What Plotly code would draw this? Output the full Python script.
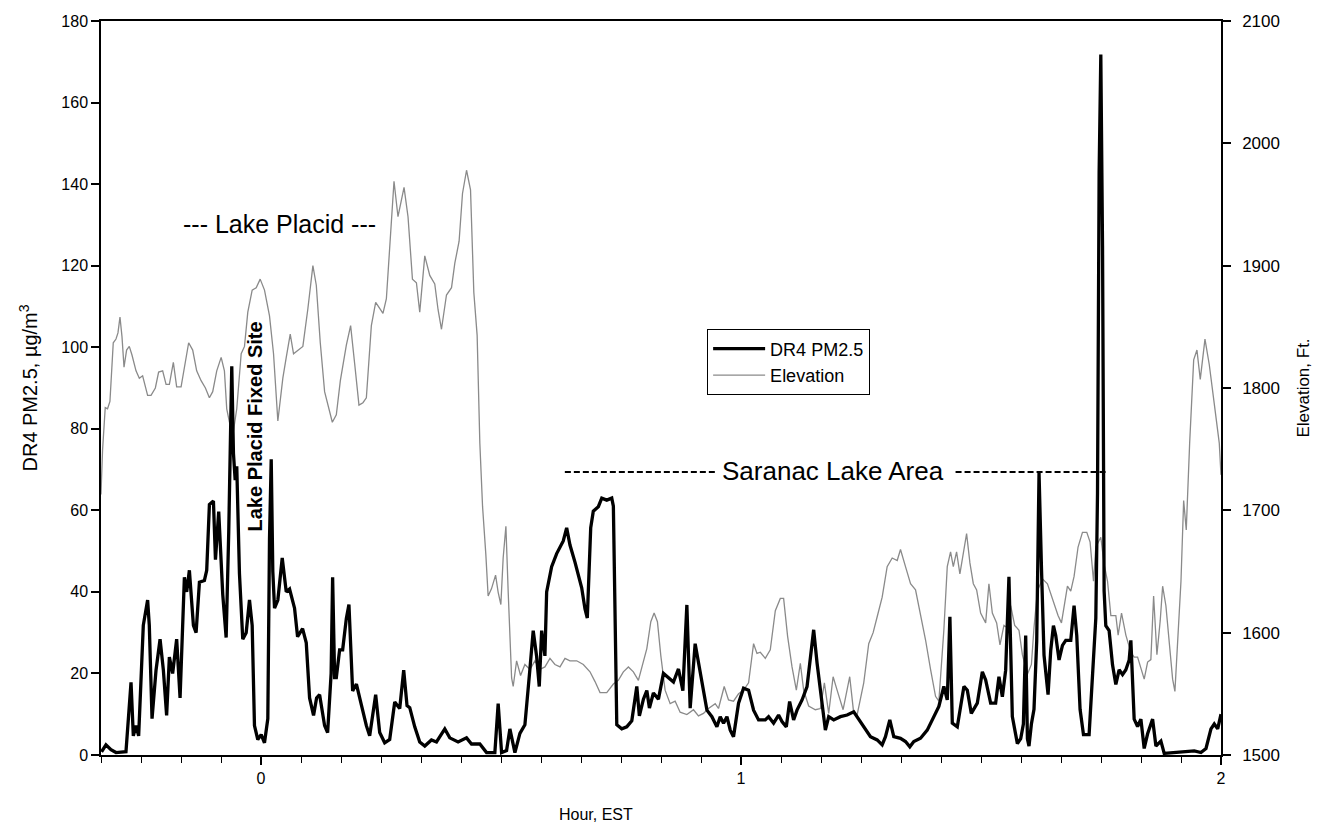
import plotly.graph_objects as go

# Time axis (hours, EST) and DR4 PM2.5 readings (ug/m3)
pm_hours = [
    -0.3322, -0.3230, -0.3126, -0.3021, -0.2813, -0.2708, -0.2660, -0.2604, -0.2549, -0.2452,
    -0.2362, -0.2327, -0.2270, -0.2187, -0.2103, -0.2034, -0.1966, -0.1909, -0.1841, -0.1757,
    -0.1686, -0.1596, -0.1548, -0.1492, -0.1408, -0.1352, -0.1283, -0.1179, -0.1131, -0.1075,
    -0.0991, -0.0949, -0.0881, -0.0797, -0.0726, -0.0672, -0.0609, -0.0574, -0.0538, -0.0505,
    -0.0449, -0.0380, -0.0309, -0.0240, -0.0184, -0.0136, -0.0067, 0.0004, 0.0073, 0.0142,
    0.0177, 0.0213, 0.0246, 0.0282, 0.0351, 0.0442, 0.0526, 0.0595, 0.0699, 0.0762,
    0.0866, 0.0943, 0.1012, 0.1095, 0.1158, 0.1221, 0.1325, 0.1388, 0.1461, 0.1492,
    0.1534, 0.1569, 0.1638, 0.1701, 0.1778, 0.1832, 0.1909, 0.1988, 0.2091, 0.2195,
    0.2264, 0.2389, 0.2473, 0.2577, 0.2681, 0.2786, 0.2890, 0.2973, 0.3042, 0.3099,
    0.3203, 0.3307, 0.3412, 0.3551, 0.3656, 0.3829, 0.3933, 0.4106, 0.4282, 0.4386,
    0.4559, 0.4699, 0.4872, 0.4941, 0.5012, 0.5116, 0.5185, 0.5290, 0.5394, 0.5498,
    0.5603, 0.5671, 0.5742, 0.5797, 0.5847, 0.5915, 0.5951, 0.6055, 0.6160, 0.6297,
    0.6368, 0.6437, 0.6541, 0.6681, 0.6750, 0.6798, 0.6869, 0.6923, 0.7028, 0.7099,
    0.7203, 0.7307, 0.7341, 0.7412, 0.7516, 0.7620, 0.7725, 0.7829, 0.7883, 0.7967,
    0.8038, 0.8092, 0.8175, 0.8280, 0.8384, 0.8488, 0.8593, 0.8697, 0.8789, 0.8872,
    0.8941, 0.9045, 0.9150, 0.9290, 0.9394, 0.9498, 0.9567, 0.9636, 0.9707, 0.9776,
    0.9844, 0.9949, 1.0053, 1.0158, 1.0262, 1.0366, 1.0506, 1.0575, 1.0679, 1.0783,
    1.0854, 1.0944, 1.1013, 1.1096, 1.1167, 1.1272, 1.1376, 1.1460, 1.1514, 1.1585,
    1.1689, 1.1758, 1.1827, 1.1931, 1.2071, 1.2211, 1.2349, 1.2420, 1.2557, 1.2697,
    1.2837, 1.2941, 1.3010, 1.3100, 1.3183, 1.3323, 1.3427, 1.3517, 1.3600, 1.3740,
    1.3880, 1.4018, 1.4122, 1.4226, 1.4297, 1.4352, 1.4402, 1.4506, 1.4644, 1.4715,
    1.4798, 1.4923, 1.5028, 1.5097, 1.5201, 1.5305, 1.5374, 1.5445, 1.5514, 1.5582,
    1.5653, 1.5758, 1.5827, 1.5883, 1.5931, 1.5967, 1.6000, 1.6050, 1.6104, 1.6161,
    1.6209, 1.6259, 1.6313, 1.6397, 1.6453, 1.6509, 1.6557, 1.6626, 1.6697, 1.6766,
    1.6870, 1.6939, 1.6995, 1.7064, 1.7135, 1.7252, 1.7323, 1.7392, 1.7427, 1.7461,
    1.7496, 1.7532, 1.7565, 1.7600, 1.7669, 1.7740, 1.7809, 1.7878, 1.7949, 1.8018,
    1.8087, 1.8122, 1.8191, 1.8262, 1.8331, 1.8400, 1.8471, 1.8575, 1.8644, 1.8748,
    1.8817, 1.9025, 1.9234, 1.9443, 1.9582, 1.9687, 1.9791, 1.9860, 1.9931, 2.0000,
]
pm25 = [
    0.8, 2.5, 1.3, 0.6, 0.8, 17.8, 4.7, 7.2, 4.7, 31.8,
    38.0, 31.8, 8.9, 20.8, 28.4, 20.8, 9.7, 24.0, 20.0, 28.4,
    14.0, 43.6, 40.0, 45.3, 31.8, 30.0, 42.4, 42.8, 45.3, 61.4,
    62.3, 47.9, 59.7, 39.4, 28.8, 54.7, 95.3, 74.0, 67.4, 70.8,
    44.5, 28.4, 30.0, 38.0, 31.8, 7.2, 3.8, 5.0, 3.0, 8.9,
    53.0, 72.5, 45.0, 36.0, 38.0, 48.3, 40.0, 40.7, 36.0, 29.0,
    31.0, 27.5, 14.0, 9.7, 14.0, 14.8, 7.2, 5.5, 20.0, 43.6,
    19.0, 19.0, 25.8, 25.8, 33.5, 36.9, 15.7, 17.4, 12.3, 7.2,
    4.7, 14.8, 5.5, 3.0, 3.8, 13.0, 11.4, 20.8, 12.1, 11.6,
    6.9, 3.2, 2.2, 3.7, 3.2, 6.4, 4.2, 3.2, 4.2, 2.7,
    2.7, 0.6, 0.6, 12.6, 0.6, 1.1, 6.4, 0.6, 5.3, 7.4,
    21.1, 30.5, 24.2, 16.8, 30.5, 24.3, 40.0, 46.2, 49.4, 52.5,
    55.7, 51.5, 47.3, 41.0, 35.8, 33.6, 55.7, 59.8, 60.9, 63.0,
    62.5, 63.0, 61.0, 7.4, 6.4, 6.9, 8.4, 16.8, 9.6, 13.7,
    15.8, 11.5, 15.2, 13.7, 20.0, 18.9, 17.9, 21.1, 15.8, 36.8,
    11.5, 27.3, 20.0, 11.0, 9.4, 6.9, 9.4, 7.8, 9.4, 6.1,
    4.5, 12.7, 16.4, 15.9, 11.0, 8.6, 8.6, 9.4, 7.8, 9.8,
    8.2, 6.9, 13.1, 8.6, 11.0, 13.5, 16.8, 25.7, 30.7, 22.5,
    13.5, 6.1, 9.4, 8.6, 9.4, 9.8, 10.6, 9.4, 6.9, 4.5,
    3.7, 2.5, 4.5, 8.6, 4.5, 4.1, 3.3, 2.0, 3.3, 4.1,
    6.1, 9.4, 11.9, 16.8, 13.5, 33.9, 7.8, 6.9, 16.8, 15.9,
    10.2, 12.7, 20.4, 18.4, 12.7, 12.7, 19.2, 14.3, 20.8, 43.7,
    9.4, 2.8, 4.0, 7.6, 29.3, 4.0, 2.2, 7.6, 11.2, 28.0,
    69.2, 46.2, 24.5, 14.8, 25.7, 31.7, 29.3, 23.3, 26.9, 28.1,
    28.1, 36.6, 29.3, 11.2, 5.0, 5.0, 20.9, 33.6, 64.0, 142.8,
    171.8, 124.7, 40.2, 31.7, 30.5, 22.1, 17.3, 20.9, 19.7, 20.9,
    23.3, 28.1, 8.8, 7.0, 8.8, 1.6, 5.2, 8.8, 2.2, 3.4,
    0.4, 0.6, 0.6, 1.0, 0.6, 1.6, 6.4, 7.6, 6.4, 10.0,
]

# GPS elevation along the route (ft)
elev_hours = [
    -0.3334, -0.3301, -0.3245, -0.3197, -0.3147, -0.3078, -0.3021, -0.2980, -0.2938, -0.2896,
    -0.2854, -0.2800, -0.2744, -0.2688, -0.2604, -0.2535, -0.2466, -0.2431, -0.2362, -0.2291,
    -0.2201, -0.2133, -0.2049, -0.1978, -0.1909, -0.1826, -0.1757, -0.1665, -0.1596, -0.1507,
    -0.1423, -0.1340, -0.1248, -0.1158, -0.1075, -0.1006, -0.0922, -0.0830, -0.0762, -0.0714,
    -0.0657, -0.0574, -0.0505, -0.0413, -0.0344, -0.0275, -0.0184, -0.0100, -0.0017, 0.0073,
    0.0177, 0.0261, 0.0351, 0.0455, 0.0526, 0.0609, 0.0678, 0.0768, 0.0872, 0.0977,
    0.1081, 0.1152, 0.1235, 0.1325, 0.1415, 0.1486, 0.1569, 0.1653, 0.1778, 0.1867,
    0.1951, 0.2041, 0.2124, 0.2195, 0.2299, 0.2389, 0.2473, 0.2541, 0.2612, 0.2702,
    0.2771, 0.2854, 0.2980, 0.3063, 0.3155, 0.3238, 0.3307, 0.3412, 0.3516, 0.3620,
    0.3689, 0.3760, 0.3864, 0.3969, 0.4038, 0.4127, 0.4198, 0.4282, 0.4365, 0.4434,
    0.4503, 0.4559, 0.4616, 0.4684, 0.4732, 0.4803, 0.4887, 0.4941, 0.4997, 0.5045,
    0.5102, 0.5150, 0.5221, 0.5254, 0.5325, 0.5408, 0.5498, 0.5603, 0.5707, 0.5811,
    0.5915, 0.6020, 0.6124, 0.6229, 0.6333, 0.6437, 0.6577, 0.6715, 0.6854, 0.6959,
    0.7063, 0.7203, 0.7341, 0.7445, 0.7549, 0.7654, 0.7758, 0.7862, 0.7954, 0.8038,
    0.8121, 0.8190, 0.8259, 0.8330, 0.8419, 0.8524, 0.8628, 0.8732, 0.8872, 0.9010,
    0.9114, 0.9218, 0.9323, 0.9463, 0.9531, 0.9650, 0.9740, 0.9844, 0.9949, 1.0053,
    1.0158, 1.0262, 1.0333, 1.0402, 1.0506, 1.0610, 1.0715, 1.0819, 1.0888, 1.0971,
    1.1063, 1.1153, 1.1236, 1.1305, 1.1410, 1.1549, 1.1654, 1.1737, 1.1827, 1.1919,
    1.2002, 1.2127, 1.2265, 1.2349, 1.2420, 1.2557, 1.2661, 1.2753, 1.2837, 1.2941,
    1.3045, 1.3150, 1.3254, 1.3323, 1.3427, 1.3532, 1.3636, 1.3740, 1.3845, 1.3949,
    1.4053, 1.4122, 1.4226, 1.4297, 1.4366, 1.4423, 1.4491, 1.4560, 1.4644, 1.4700,
    1.4769, 1.4840, 1.4909, 1.4992, 1.5097, 1.5165, 1.5236, 1.5326, 1.5395, 1.5478,
    1.5549, 1.5618, 1.5702, 1.5791, 1.5862, 1.5967, 1.6050, 1.6104, 1.6175, 1.6280,
    1.6384, 1.6509, 1.6605, 1.6676, 1.6730, 1.6801, 1.6870, 1.6939, 1.7022, 1.7114,
    1.7204, 1.7273, 1.7344, 1.7392, 1.7496, 1.7565, 1.7636, 1.7705, 1.7809, 1.7857,
    1.7928, 1.8018, 1.8122, 1.8191, 1.8262, 1.8331, 1.8400, 1.8471, 1.8539, 1.8596,
    1.8665, 1.8734, 1.8784, 1.8852, 1.8921, 1.8992, 1.9040, 1.9097, 1.9166, 1.9222,
    1.9276, 1.9347, 1.9431, 1.9499, 1.9568, 1.9666, 1.9756, 1.9860, 1.9964, 2.0000,
]
elevation = [
    1713, 1749, 1784, 1783, 1789, 1837, 1840, 1845, 1858, 1842,
    1817, 1831, 1834, 1827, 1814, 1808, 1810, 1804, 1794, 1794,
    1800, 1813, 1814, 1803, 1803, 1821, 1801, 1801, 1817, 1837,
    1831, 1814, 1806, 1800, 1792, 1797, 1814, 1825, 1814, 1783,
    1772, 1765, 1783, 1828, 1834, 1862, 1880, 1882, 1889, 1880,
    1859, 1828, 1773, 1808, 1825, 1844, 1828, 1831, 1834, 1865,
    1900, 1884, 1837, 1797, 1783, 1772, 1778, 1806, 1835, 1851,
    1820, 1786, 1788, 1792, 1851, 1870, 1865, 1861, 1873, 1933,
    1969, 1940, 1964, 1940, 1889, 1886, 1862, 1908, 1892, 1885,
    1864, 1848, 1876, 1882, 1902, 1920, 1959, 1978, 1962, 1878,
    1843, 1755, 1703, 1664, 1630, 1636, 1647, 1633, 1623, 1661,
    1687, 1633, 1563, 1556, 1577, 1565, 1574, 1570, 1577, 1570,
    1572, 1579, 1574, 1572, 1579, 1577, 1577, 1574, 1568, 1560,
    1551, 1551, 1558, 1561, 1568, 1572, 1568, 1561, 1574, 1587,
    1609, 1616, 1609, 1581, 1553, 1542, 1544, 1535, 1533, 1537,
    1532, 1534, 1538, 1542, 1538, 1556, 1545, 1544, 1550, 1553,
    1559, 1591, 1583, 1584, 1579, 1586, 1618, 1628, 1628, 1597,
    1572, 1553, 1575, 1553, 1540, 1537, 1538, 1559, 1534, 1564,
    1553, 1537, 1564, 1534, 1533, 1559, 1591, 1600, 1613, 1629,
    1654, 1661, 1659, 1668, 1654, 1640, 1635, 1616, 1594, 1570,
    1548, 1544, 1602, 1654, 1666, 1654, 1666, 1648, 1668, 1681,
    1657, 1640, 1635, 1616, 1608, 1640, 1616, 1608, 1590, 1606,
    1604, 1622, 1606, 1602, 1582, 1566, 1574, 1604, 1634, 1644,
    1640, 1626, 1614, 1608, 1622, 1638, 1634, 1646, 1670, 1682,
    1682, 1674, 1642, 1670, 1678, 1656, 1642, 1614, 1614, 1598,
    1616, 1598, 1584, 1580, 1580, 1570, 1562, 1576, 1578, 1630,
    1582, 1610, 1638, 1622, 1594, 1562, 1552, 1590, 1642, 1708,
    1684, 1755, 1823, 1831, 1807, 1840, 1819, 1787, 1755, 1729,
]

x_ticks = [0, 1, 2]
pm_ticks = [0, 20, 40, 60, 80, 100, 120, 140, 160, 180]
elev_ticks = [1500, 1600, 1700, 1800, 1900, 2000, 2100]

FONT = "Arial, Liberation Sans, sans-serif"

fig = go.Figure()

# Elevation on the primary (right-hand) axis so the PM trace sits on top
fig.add_trace(go.Scatter(
    x=elev_hours, y=elevation, name="Elevation", mode="lines",
    line=dict(color="#8a8a8a", width=1.3), yaxis="y", legendrank=2,
))
fig.add_trace(go.Scatter(
    x=pm_hours, y=pm25, name="DR4 PM2.5", mode="lines",
    line=dict(color="#000000", width=3.3), yaxis="y2", legendrank=1,
))

axis_common = dict(
    showgrid=False, zeroline=False, showline=True, linecolor="#000000", linewidth=1.5,
    ticks="outside", ticklen=8, tickwidth=1.5, tickcolor="#000000", automargin=False,
)

fig.update_layout(
    width=1319, height=828,
    margin=dict(l=101, r=98, t=21, b=73),
    paper_bgcolor="white", plot_bgcolor="white",
    font=dict(family=FONT, color="#000000"),
    xaxis=dict(
        range=[-1 / 3, 2], tickvals=x_ticks, mirror=True,
        tickfont=dict(family=FONT, size=16, color="#000000"),
        minor=dict(dtick=1 / 12, tick0=0, ticks="outside", ticklen=6, tickwidth=1.2, tickcolor="#000000"),
        **axis_common,
    ),
    yaxis=dict(
        range=[1500, 2100], tickvals=elev_ticks, side="right", ticklabelstandoff=8,
        tickfont=dict(family=FONT, size=17, color="#000000"),
        title=dict(text="Elevation, Ft.", font=dict(family=FONT, size=17), standoff=18),
        **axis_common,
    ),
    yaxis2=dict(
        range=[0, 180], tickvals=pm_ticks, side="left", overlaying="y",
        tickfont=dict(family=FONT, size=16, color="#000000"),
        title=dict(text="DR4 PM2.5, µg/m<sup>3</sup>", font=dict(family=FONT, size=20), standoff=18),
        **axis_common,
    ),
    legend=dict(
        x=0.541, y=0.58, xanchor="left", yanchor="top",
        bordercolor="#000000", borderwidth=1.2, bgcolor="white",
        font=dict(family=FONT, size=18, color="#000000"),
        itemwidth=52, tracegroupgap=0,
    ),
    showlegend=True,
)

# Horizontal-axis caption, placed left of centre beneath the tick labels
fig.add_annotation(x=0.442, y=-0.0817, xref="paper", yref="paper", yanchor="middle",
                   text="Hour, EST", showarrow=False,
                   font=dict(family=FONT, size=16, color="#000000"))

# Route annotations
fig.add_annotation(x=0.0376, y=130.2, xref="x", yref="y2", text="--- Lake Placid ---",
                   showarrow=False, font=dict(family=FONT, size=25, color="#000000"))
fig.add_annotation(x=-0.013, y=80.5, xref="x", yref="y2", text="<b>Lake Placid Fixed Site</b>",
                   textangle=-90, showarrow=False, font=dict(family=FONT, size=20, color="#000000"))
fig.add_annotation(x=1.1925, y=69.6, xref="x", yref="y2", text="Saranac Lake Area",
                   showarrow=False, font=dict(family=FONT, size=26, color="#000000"))

saranac_dash_y = 69.4
for x0, x1 in [(0.633, 0.946), (1.447, 1.764)]:
    fig.add_shape(type="line", xref="x", yref="y2", x0=x0, x1=x1,
                  y0=saranac_dash_y, y1=saranac_dash_y,
                  line=dict(color="#000000", width=2, dash="6px,3px"))

fig.write_html("out.html")
